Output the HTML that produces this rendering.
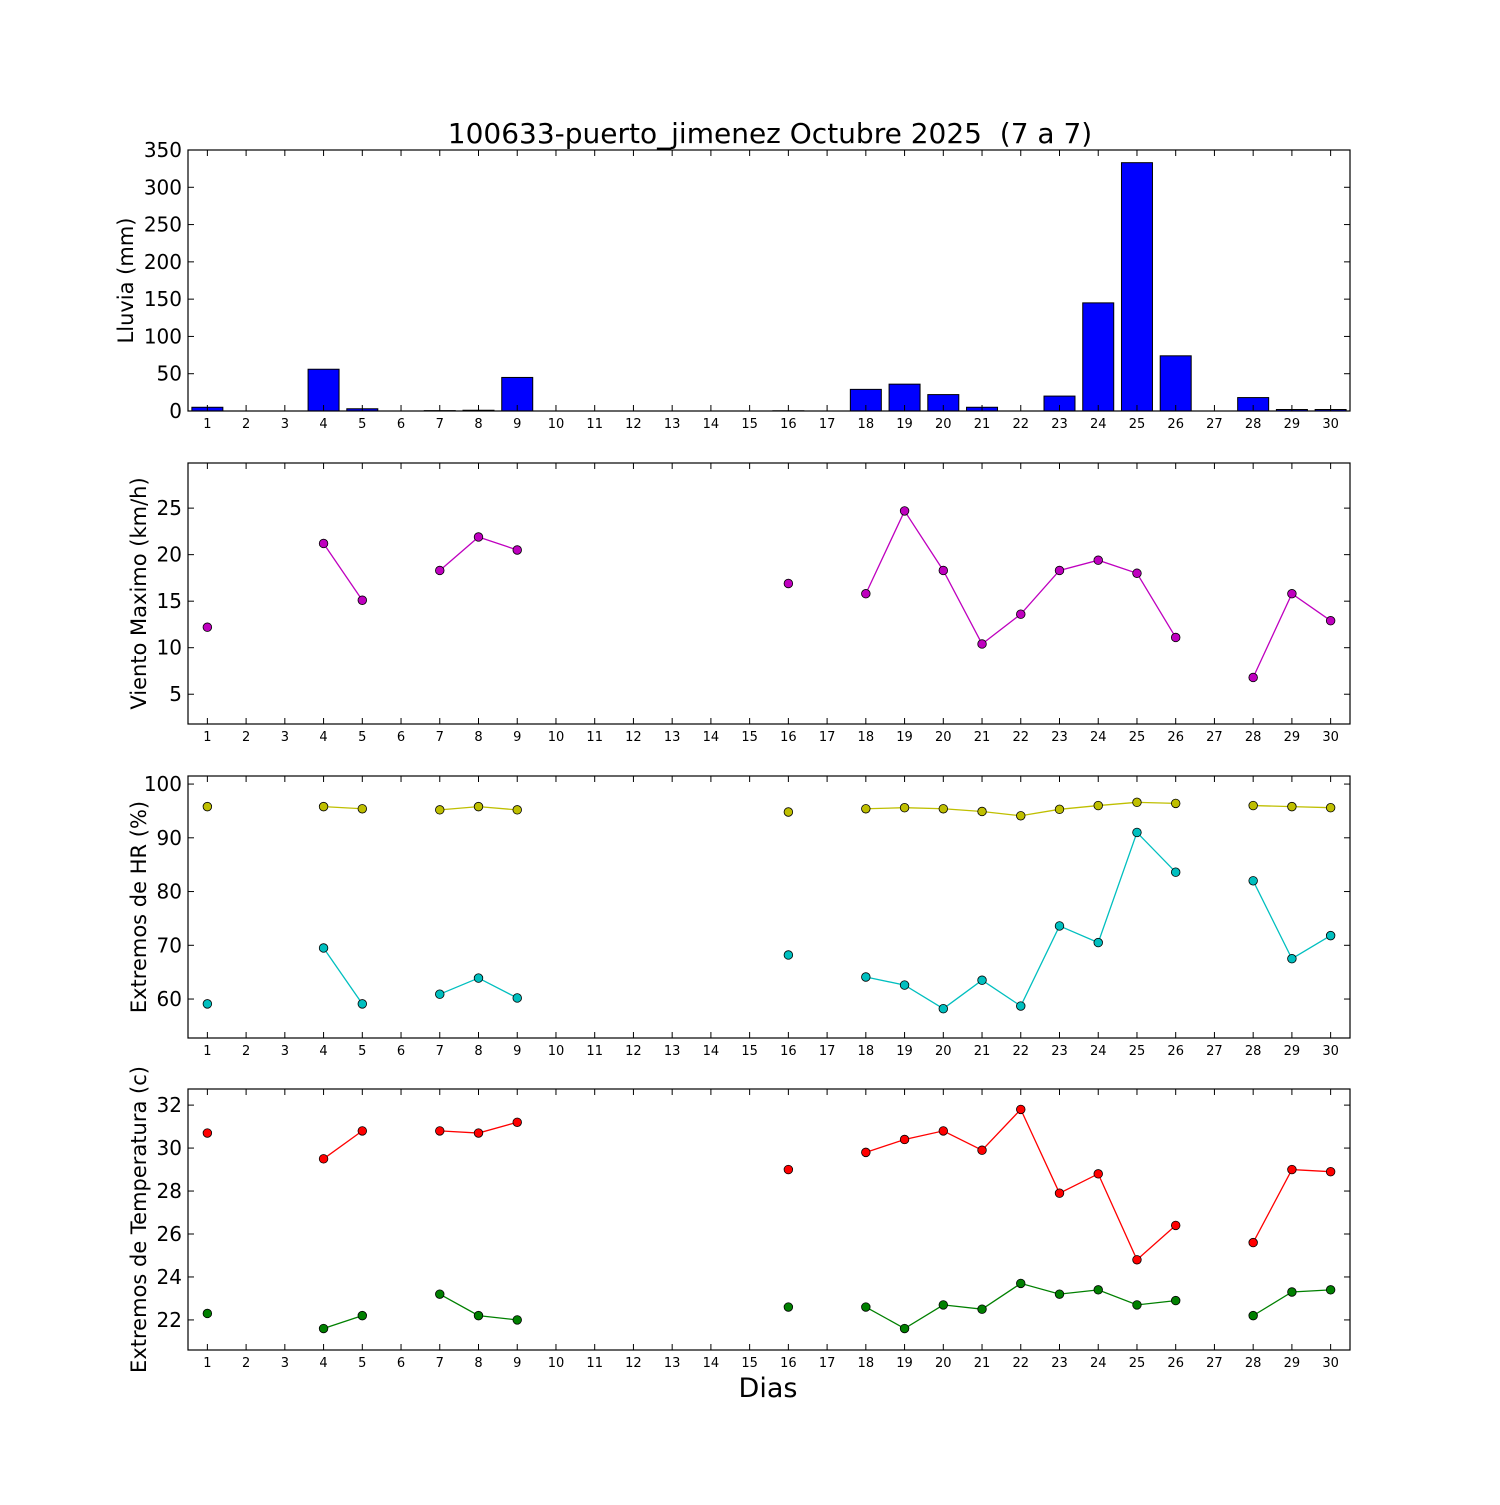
<!DOCTYPE html>
<html><head><meta charset="utf-8"><style>
html,body{margin:0;padding:0;background:#fff;}
svg text{font-family:"DejaVu Sans","Liberation Sans",sans-serif;}
</style></head><body>
<svg id="chart" width="1500" height="1500" xmlns="http://www.w3.org/2000/svg"></svg>
<script>
const days = [1,4,5,7,8,9,16,18,19,20,21,22,23,24,25,26,28,29,30];
const rainDays = [1,4,5,7,8,9,16,18,19,20,21,23,24,25,26,28,29,30];
const rain = [5,56,3,0.5,1,45,0.3,29,36,22,5,20,145,333,74,18,2,2];
const wind = [12.2,21.2,15.1,18.3,21.9,20.5,16.9,15.8,24.7,18.3,10.4,13.6,18.3,19.4,18.0,11.1,6.8,15.8,12.9];
const hrMax = [95.8,95.8,95.4,95.2,95.8,95.2,94.8,95.4,95.6,95.4,94.9,94.1,95.3,96.0,96.6,96.4,96.0,95.8,95.6];
const hrMin = [59.1,69.5,59.1,60.9,63.9,60.2,68.2,64.1,62.6,58.2,63.5,58.7,73.6,70.5,91.0,83.6,82.0,67.5,71.8];
const tMax = [30.7,29.5,30.8,30.8,30.7,31.2,29.0,29.8,30.4,30.8,29.9,31.8,27.9,28.8,24.8,26.4,25.6,29.0,28.9];
const tMin = [22.3,21.6,22.2,23.2,22.2,22.0,22.6,22.6,21.6,22.7,22.5,23.7,23.2,23.4,22.7,22.9,22.2,23.3,23.4];
const rainTicks = [0,50,100,150,200,250,300,350];
const windTicks = [5,10,15,20,25];
const hrTicks = [60,70,80,90,100];
const tTicks = [22,24,26,28,30,32];

const svg = document.getElementById('chart');
const NS = 'http://www.w3.org/2000/svg';
function mk(tag, attrs, parent){const e=document.createElementNS(NS,tag);for(const k in attrs)e.setAttribute(k,attrs[k]);(parent||svg).appendChild(e);return e;}
const X0=188, X1=1350;
function xs(d){return X0+(d-0.5)*(X1-X0)/30;}

const panels=[
 {top:150,bot:411,lo:0,hi:350,ticks:rainTicks,label:'Lluvia (mm)',name:'rain-panel'},
 {top:463,bot:724,lo:1.8,hi:29.85,ticks:windTicks,label:'Viento Maximo (km/h)',name:'wind-panel'},
 {top:776,bot:1038,lo:52.75,hi:101.5,ticks:hrTicks,label:'Extremos de HR (%)',name:'humidity-panel'},
 {top:1089,bot:1350,lo:20.6,hi:32.75,ticks:tTicks,label:'Extremos de Temperatura (c)',name:'temperature-panel'}
];
panels.forEach(p=>{p.y=v=>p.bot-(v-p.lo)/(p.hi-p.lo)*(p.bot-p.top);});

function drawSeries(p,vals,color,name){
  const g=mk('g',{});
  
  
  let seg=[];
  const segs=[];
  for(let i=0;i<days.length;i++){
    if(i>0 && days[i]!==days[i-1]+1){segs.push(seg);seg=[];}
    seg.push([xs(days[i]),p.y(vals[i])]);
  }
  segs.push(seg);
  segs.forEach(s=>{if(s.length>1){const l=mk('polyline',{points:s.map(q=>q.join(',')).join(' '),fill:'none',stroke:color,'stroke-width':1.3},g);
    
    }});
  for(let i=0;i<days.length;i++){
    const c=mk('circle',{cx:xs(days[i]),cy:p.y(vals[i]),r:4.3,fill:color,stroke:'#000','stroke-width':0.8},g);
    
    
  }
}

panels.forEach((p,pi)=>{
  const g=mk('g',{});
  
  
  if(pi===0){
    for(let i=0;i<rainDays.length;i++){
      const x=xs(rainDays[i])-0.4*(X1-X0)/30, w=0.8*(X1-X0)/30;
      const y=p.y(rain[i]);
      const b=mk('rect',{x:x,y:y,width:w,height:p.bot-y,fill:'#0000ff',stroke:'#000','stroke-width':1},g);
      
      
    }
  } else if(pi===1){ drawSeries(p,wind,'#bf00bf','wind-series'); }
  else if(pi===2){ drawSeries(p,hrMax,'#bfbf00','humidity-max-series'); drawSeries(p,hrMin,'#00bfbf','humidity-min-series'); }
  else { drawSeries(p,tMax,'#ff0000','temperature-max-series'); drawSeries(p,tMin,'#008000','temperature-min-series'); }
  const fr=mk('rect',{x:X0,y:p.top,width:X1-X0,height:p.bot-p.top,fill:'none',stroke:'#000','stroke-width':1.2},g);
  
  
  for(let d=1;d<=30;d++){
    const x=xs(d);
    mk('line',{x1:x,x2:x,y1:p.bot,y2:p.bot-6,stroke:'#000','stroke-width':1},g);
    mk('line',{x1:x,x2:x,y1:p.top,y2:p.top+6,stroke:'#000','stroke-width':1},g);
    const t=mk('text',{x:x,y:p.bot+17,'font-size':13,'text-anchor':'middle'},g);
    t.textContent=d;
    
    
  }
  p.ticks.forEach(v=>{
    const y=p.y(v);
    mk('line',{x1:X0,x2:X0+6,y1:y,y2:y,stroke:'#000','stroke-width':1},g);
    mk('line',{x1:X1,x2:X1-6,y1:y,y2:y,stroke:'#000','stroke-width':1},g);
    const t=mk('text',{x:X0-6,y:y+7,'font-size':20,'text-anchor':'end'},g);
    t.textContent=v;
    
    
  });
  const cy=(p.top+p.bot)/2;
  const yl=mk('text',{x:0,y:0,'font-size':21,'text-anchor':'middle',transform:`translate(${pi===0?133:146},${cy}) rotate(-90)`},g);
  yl.textContent=p.label;
  
  
});
const title=mk('text',{x:770,y:143,'font-size':28,'text-anchor':'middle'});
title.textContent='100633-puerto_jimenez Octubre 2025  (7 a 7)';


title.setAttribute('xml:space','preserve');
title.style.whiteSpace='pre';
const xl=mk('text',{x:768,y:1397,'font-size':27,'text-anchor':'middle'});
xl.textContent='Dias';


</script>
</body></html>
